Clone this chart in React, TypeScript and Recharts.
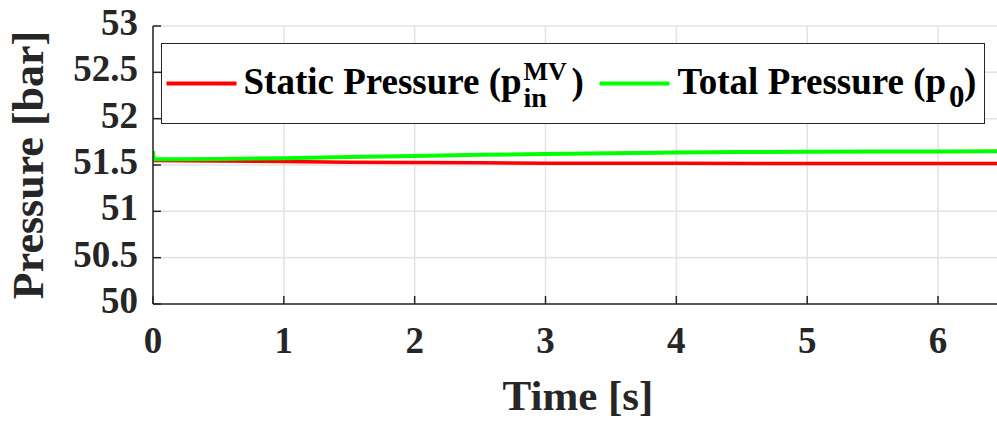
import React from "react";
import {
  LineChart,
  Line,
  XAxis,
  YAxis,
  CartesianGrid,
  Legend,
} from "recharts";

// time samples [s] and pressures [bar]
const staticTime = [0, 0.25, 0.5, 1, 1.5, 2, 2.5, 3, 3.5, 4, 5, 6, 6.47];
const staticPressure = [
  51.548, 51.546, 51.543, 51.537, 51.531, 51.526, 51.523, 51.52, 51.519,
  51.518, 51.517, 51.516, 51.516,
];

const totalTime = [0, 0.006, 0.25, 0.5, 1, 1.5, 2, 2.5, 3, 3.5, 4, 4.5, 5, 5.5, 6, 6.47];
const totalPressure = [
  51.65, 51.563, 51.563, 51.565, 51.573, 51.585, 51.598, 51.61, 51.62,
  51.628, 51.635, 51.64, 51.644, 51.646, 51.647, 51.648,
];

const xTicks = [0, 1, 2, 3, 4, 5, 6];
const yTicks = [50, 50.5, 51, 51.5, 52, 52.5, 53];

const staticData = staticTime.map((t, i) => ({ t, p: staticPressure[i] }));
const totalData = totalTime.map((t, i) => ({ t, p: totalPressure[i] }));

const AXIS = "#262626";
const FONT = "'Liberation Serif', serif";

const XTick = ({ x, y, payload }: any) => (
  <text
    x={x}
    y={y + 49}
    textAnchor="middle"
    fontFamily={FONT}
    fontWeight="bold"
    fontSize={37}
    fill="#262626"
  >
    {payload.value}
  </text>
);

const YTick = ({ x, y, payload }: any) => (
  <text
    x={x}
    y={y + 9}
    textAnchor="end"
    fontFamily={FONT}
    fontWeight="bold"
    fontSize={37}
    fill="#262626"
  >
    {payload.value}
  </text>
);

const XLabel = ({ viewBox }: any) => (
  <text
    x={viewBox.x + viewBox.width / 2 + 2}
    y={viewBox.y + 106}
    textAnchor="middle"
    fontFamily={FONT}
    fontWeight="bold"
    fontSize={43}
    fill="#262626"
  >
    Time [s]
  </text>
);

const YLabel = ({ viewBox }: any) => {
  const cy = viewBox.y + viewBox.height / 2;
  return (
    <text
      x={43}
      y={cy}
      transform={`rotate(-90, 43, ${cy})`}
      textAnchor="middle"
      fontFamily={FONT}
      fontWeight="bold"
      fontSize={44}
      fill="#262626"
    >
      Pressure [bar]
    </text>
  );
};

const legendText = {
  fontFamily: FONT,
  fontWeight: "bold" as const,
  fill: "#000",
};

const LegendBox = () => (
  <div
    style={{
      width: 824,
      height: 81,
      border: `1.5px solid ${AXIS}`,
      background: "#fff",
      boxSizing: "border-box",
    }}
  >
    <svg width={821} height={78} style={{ display: "block" }}>
      <line x1={4.5} x2={74.5} y1={39.5} y2={39.5} stroke="#ff0000" strokeWidth={4} />
      <text x={81.5} y={49.5} fontSize={37} {...legendText}>
        Static Pressure (p
      </text>
      <text x={361.5} y={35.5} fontSize={26} {...legendText}>
        MV
      </text>
      <text x={361.5} y={62.5} fontSize={28} {...legendText}>
        in
      </text>
      <text x={409.5} y={49.5} fontSize={37} {...legendText}>
        )
      </text>
      <line x1={437.5} x2={507.5} y1={39.5} y2={39.5} stroke="#00ff00" strokeWidth={4} />
      <text x={515.5} y={49.5} fontSize={37} {...legendText}>
        Total Pressure (p
      </text>
      <text x={787} y={62.5} fontSize={31} {...legendText}>
        0
      </text>
      <text x={802} y={49.5} fontSize={37} {...legendText}>
        )
      </text>
    </svg>
  </div>
);

export default function App() {
  return (
    <div
      style={{
        position: "absolute",
        left: 0,
        top: 0,
        width: 997,
        height: 424,
        overflow: "hidden",
        background: "#fff",
      }}
    >
      <LineChart
        width={999}
        height={424}
        margin={{ top: 26, right: 0, bottom: 0, left: 0 }}
      >
        <CartesianGrid stroke="#e3e3e3" strokeWidth={1.5} />
        <XAxis
          dataKey="t"
          type="number"
          domain={[0, 6.466]}
          ticks={xTicks}
          allowDataOverflow
          height={120}
          stroke={AXIS}
          strokeWidth={1.5}
          tickSize={-8}
          tickMargin={8}
          tick={<XTick />}
          label={<XLabel />}
        />
        <XAxis
          xAxisId="top"
          orientation="top"
          type="number"
          domain={[0, 6.466]}
          ticks={xTicks}
          height={0}
          stroke={AXIS}
          strokeWidth={1.5}
          tickSize={-8}
          tick={false}
        />
        <YAxis
          type="number"
          domain={[50, 53]}
          ticks={yTicks}
          width={153}
          stroke={AXIS}
          strokeWidth={1.5}
          tickSize={-8}
          tickMargin={23}
          tick={<YTick />}
          label={<YLabel />}
        />
        <YAxis
          yAxisId="r"
          orientation="right"
          type="number"
          domain={[50, 53]}
          ticks={yTicks}
          width={0}
          stroke={AXIS}
          strokeWidth={1.5}
          tickSize={-8}
          tick={false}
        />
        <Line
          data={staticData}
          dataKey="p"
          name="static"
          stroke="#ff0000"
          strokeWidth={3.5}
          dot={false}
          type="linear"
          isAnimationActive={false}
        />
        <Line
          data={totalData}
          dataKey="p"
          name="total"
          stroke="#00ff00"
          strokeWidth={4}
          dot={false}
          type="linear"
          isAnimationActive={false}
        />
        <Legend
          layout="horizontal"
          verticalAlign="middle"
          align="center"
          content={<LegendBox />}
          wrapperStyle={{ position: "absolute", left: 161, top: 43, width: 824, height: 81 }}
        />
      </LineChart>
    </div>
  );
}
